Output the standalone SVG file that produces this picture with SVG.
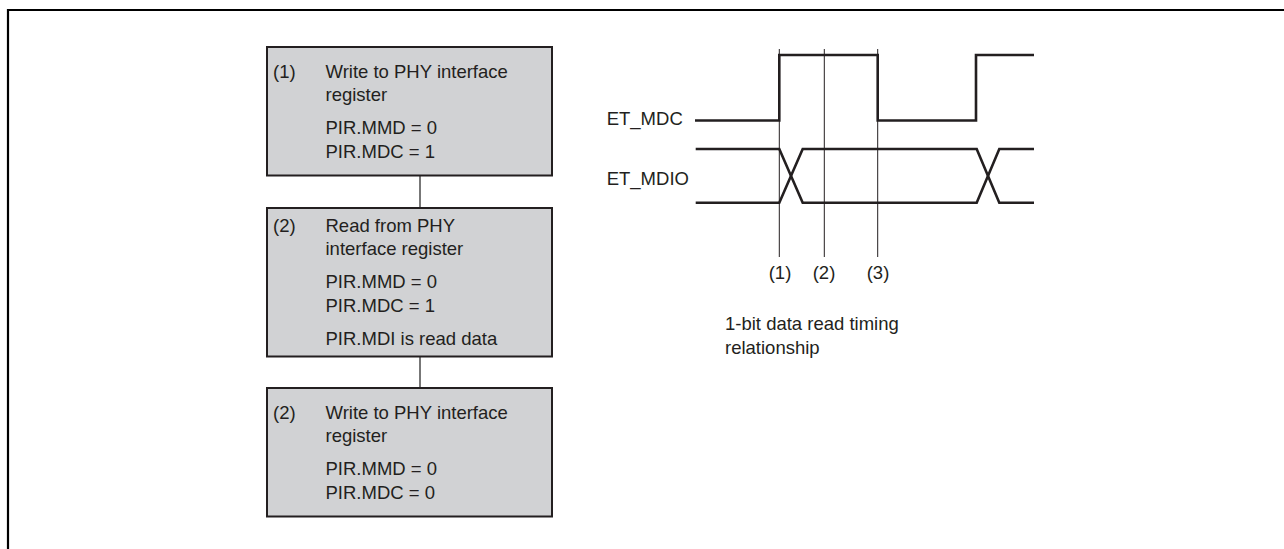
<svg xmlns="http://www.w3.org/2000/svg" width="1284" height="549" viewBox="0 0 1284 549">
<style>
  text { font-family: "Liberation Sans", Arial, sans-serif; font-size: 18.5px; fill: #231f20; }
  .box { fill: #d1d2d4; stroke: #231f20; stroke-width: 2; }
  .conn { stroke: #555; stroke-width: 1.6; fill: none; }
  .wave { stroke: #231f20; stroke-width: 2.6; fill: none; stroke-linejoin: miter; }
  .guide { stroke: #231f20; stroke-width: 1; fill: none; }
  .frame { stroke: #000; stroke-width: 2.2; fill: none; }
  .mid { text-anchor: middle; }
</style>
<rect width="1284" height="549" fill="#ffffff"/>
<path class="frame" d="M8 549 V10 H1284"/>

<g id="connectors">
  <line class="conn" x1="420" y1="176" x2="420" y2="208"/>
  <line class="conn" x1="420" y1="357" x2="420" y2="388"/>
</g>

<g id="node1">
  <rect class="box" x="267" y="47" width="285" height="128.5"/>
  <text x="273" y="77.5">(1)</text>
  <text x="325.5" y="77.5">Write to PHY interface</text>
  <text x="325.5" y="101">register</text>
  <text x="325.5" y="134">PIR.MMD = 0</text>
  <text x="325.5" y="157.5">PIR.MDC = 1</text>
</g>

<g id="node2">
  <rect class="box" x="267" y="208" width="285" height="148.5"/>
  <text x="273" y="231.5">(2)</text>
  <text x="325.5" y="231.5">Read from PHY</text>
  <text x="325.5" y="255">interface register</text>
  <text x="325.5" y="288">PIR.MMD = 0</text>
  <text x="325.5" y="311.5">PIR.MDC = 1</text>
  <text x="325.5" y="344.5">PIR.MDI is read data</text>
</g>

<g id="node3">
  <rect class="box" x="267" y="388" width="285" height="128.5"/>
  <text x="273" y="418.75">(2)</text>
  <text x="325.5" y="418.75">Write to PHY interface</text>
  <text x="325.5" y="442.25">register</text>
  <text x="325.5" y="475.25">PIR.MMD = 0</text>
  <text x="325.5" y="498.75">PIR.MDC = 0</text>
</g>

<g id="timing">
  <text x="606.7" y="124.5">ET_MDC</text>
  <text x="606.7" y="185">ET_MDIO</text>
  <path class="wave" d="M695 120.5 H779.3 V55 H877.7 V120.5 H976 V55 H1034"/>
  <path class="wave" d="M695.7 149 H779.3 L802.7 202.7 H976.7 L999.3 149 H1034"/>
  <path class="wave" d="M695.7 202.7 H779.3 L802.7 149 H976.7 L999.3 202.7 H1034"/>
  <line class="guide" x1="779.3" y1="49" x2="779.3" y2="257"/>
  <line class="guide" x1="824.3" y1="49" x2="824.3" y2="257"/>
  <line class="guide" x1="877.7" y1="49" x2="877.7" y2="257"/>
  <text class="mid" x="780" y="279">(1)</text>
  <text class="mid" x="824" y="279">(2)</text>
  <text class="mid" x="878" y="279">(3)</text>
  <text x="725" y="330">1-bit data read timing</text>
  <text x="725" y="353.5">relationship</text>
</g>
</svg>
